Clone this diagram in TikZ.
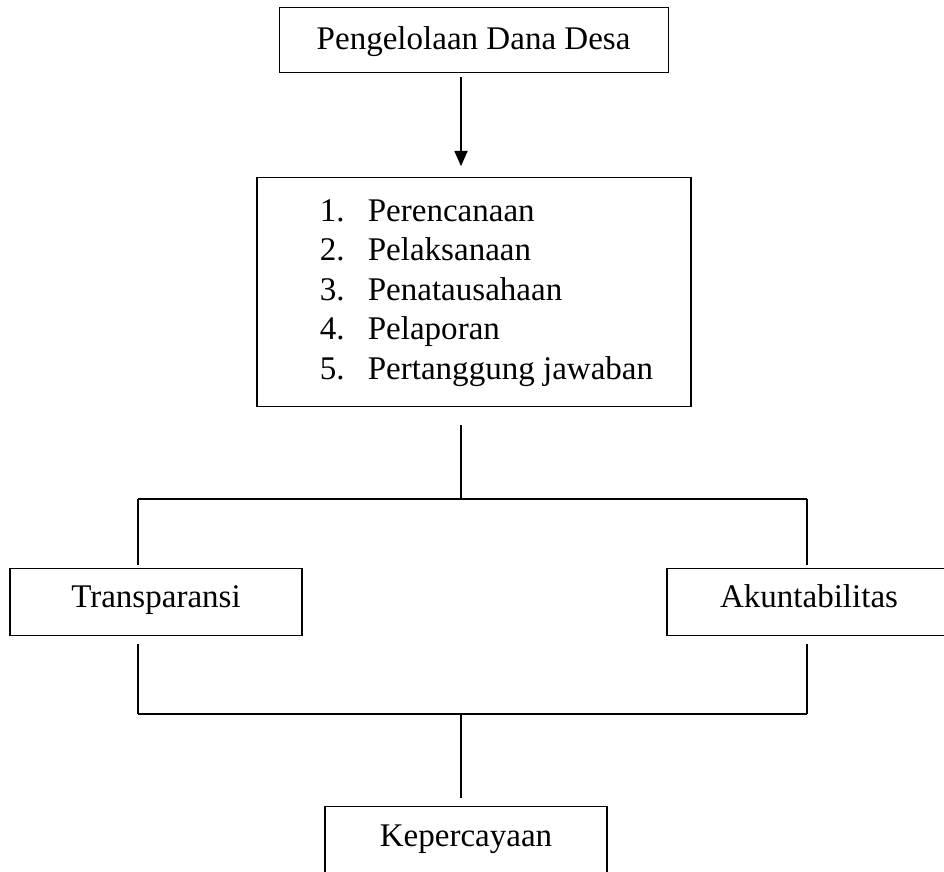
\documentclass[tikz,border=0pt]{standalone}
\usepackage{fontspec}
\setmainfont{Liberation Serif}
\usetikzlibrary{arrows.meta}

\begin{document}
\begin{tikzpicture}[x=1cm,y=1cm,
  font=\fontsize{23.5}{28.1}\selectfont,
  box/.style={draw, line width=0.8pt, inner sep=0pt},
  label box/.style={box, text height=0.55cm, text depth=0.27cm},
  link/.style={line width=0.8pt},
  arrowlink/.style={line width=0.8pt, -{Triangle[length=0.38cm,width=0.33cm]}}]
\useasboundingbox (0,0) rectangle (23.6,-21.8);

\node[box, text height=0.7cm, text depth=0.22cm, minimum width=9.725cm, minimum height=1.625cm] (top) at (11.84,-1.01) {Pengelolaan Dana Desa};
\node[box, minimum width=10.85cm, minimum height=5.725cm] (list) at (11.85,-7.31)
  {\hspace{0.625cm}\begin{tabular}{@{}l@{\hspace{0.58cm}}l@{}}
   1. & Perencanaan\\
   2. & Pelaksanaan\\
   3. & Penatausahaan\\
   4. & Pelaporan\\
   5. & Pertanggung jawaban
   \end{tabular}};
\node[label box, minimum width=7.3cm, minimum height=1.675cm] (trans) at (3.9,-15.06) {Transparansi};
\node[label box, minimum width=7.1cm, minimum height=1.675cm] (akun) at (20.225,-15.06) {Akuntabilitas};
\node[label box, minimum width=7.05cm, minimum height=1.675cm] (trust) at (11.65,-21.01) {Kepercayaan};

\coordinate (spine) at (11.525,0);
\coordinate (jl) at (3.45,-12.475);
\coordinate (jr) at (20.175,-12.475);
\coordinate (ml) at (3.45,-17.85);
\coordinate (mr) at (20.175,-17.85);

\draw[arrowlink] ([yshift=-0.1cm]top.south -| spine) -- ([yshift=0.28cm]list.north -| spine);
\draw[link] ([yshift=-0.45cm]list.south -| spine) -- (spine |- jl);
\draw[link] (jl) -- (jr);
\draw[link] (jl) -- ([yshift=0.075cm]trans.north -| jl);
\draw[link] (jr) -- ([yshift=0.075cm]akun.north -| jr);
\draw[link] ([yshift=-0.2cm]trans.south -| ml) -- (ml);
\draw[link] ([yshift=-0.2cm]akun.south -| mr) -- (mr);
\draw[link] (ml) -- (mr);
\draw[link] (spine |- ml) -- ([yshift=0.2cm]trust.north -| spine);
\end{tikzpicture}
\end{document}
